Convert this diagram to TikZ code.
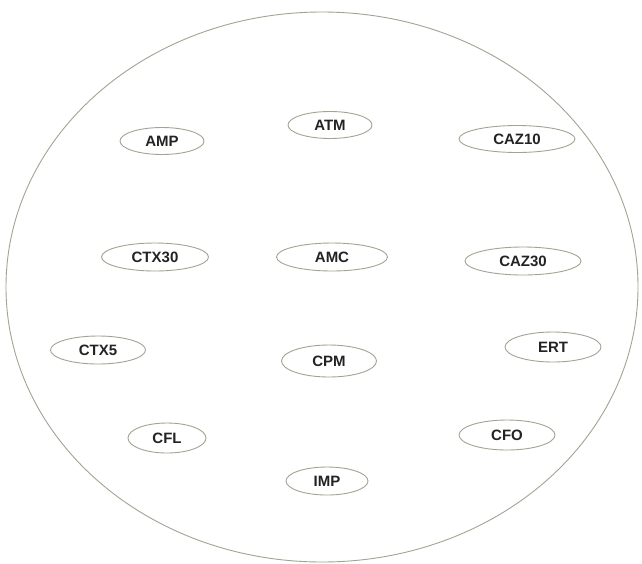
\documentclass[tikz,border=0pt]{standalone}
\usepackage{fontspec}
\setmainfont{Liberation Sans}
\usetikzlibrary{shapes.geometric}
\definecolor{rim}{RGB}{158,166,146}
\definecolor{ink}{RGB}{35,35,35}
\tikzset{
  drug/.style={ellipse, draw=rim, line width=0.9pt, inner sep=0pt,
    font=\fontsize{15}{15}\selectfont\bfseries, text=ink},
}
\begin{document}
\begin{tikzpicture}[x=1pt,y=-1pt]
\useasboundingbox (0,0) rectangle (642,563);
\fill[white] (0,0) rectangle (642,563);
\node[ellipse, draw=rim, line width=0.9pt, minimum width=632, minimum height=550, inner sep=0pt] (outer) at (322,287) {};
\node[drug, minimum width=84, minimum height=27] (amp) at (162,141) {AMP};
\node[drug, minimum width=84, minimum height=27] (atm) at (330,125) {ATM};
\node[drug, minimum width=116, minimum height=27] (caz10) at (517,139) {CAZ10};
\node[drug, minimum width=107, minimum height=28] (ctx30) at (155,257) {CTX30};
\node[drug, minimum width=111, minimum height=28] (amc) at (332,257) {AMC};
\node[drug, minimum width=116, minimum height=28] (caz30) at (523,261) {CAZ30};
\node[drug, minimum width=95, minimum height=28] (ctx5) at (98,350) {CTX5};
\node[drug, minimum width=95, minimum height=32] (cpm) at (329,361) {CPM};
\node[drug, minimum width=96, minimum height=30] (ert) at (553,347) {ERT};
\node[drug, minimum width=78, minimum height=30] (cfl) at (167,438) {CFL};
\node[drug, minimum width=96, minimum height=30] (cfo) at (507,435) {CFO};
\node[drug, minimum width=82, minimum height=28] (imp) at (327,481) {IMP};
\end{tikzpicture}
\end{document}
